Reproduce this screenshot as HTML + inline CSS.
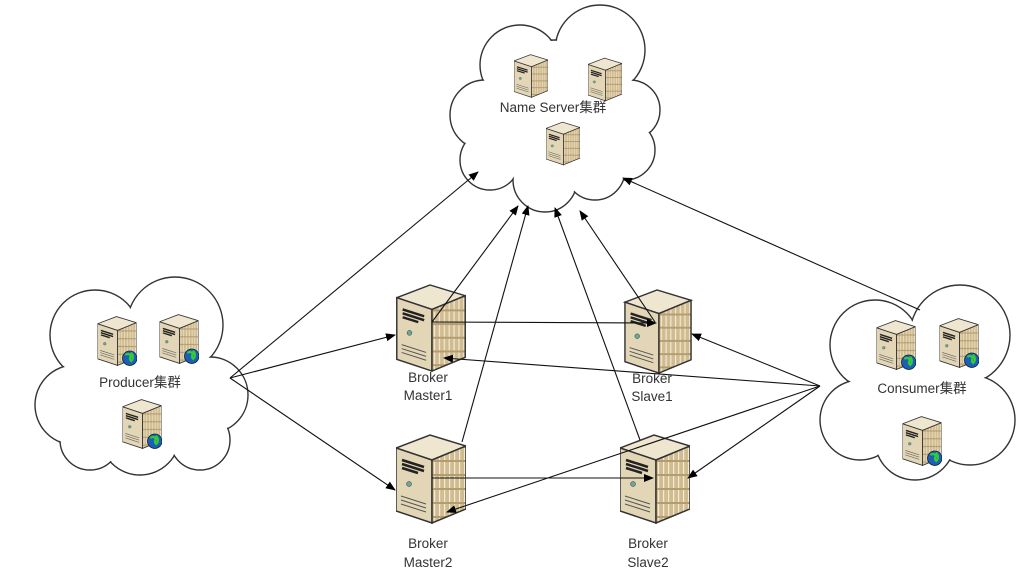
<!DOCTYPE html>
<html><head><meta charset="utf-8"><style>
html,body{margin:0;padding:0;background:#fff;width:1017px;height:576px;overflow:hidden}
text{font-family:"Liberation Sans","Noto Sans CJK SC",sans-serif;fill:#333;font-size:13.5px}
</style></head><body>
<svg width="1017" height="576" viewBox="0 0 1017 576" xmlns="http://www.w3.org/2000/svg">
<defs>
<marker id="a" markerWidth="10" markerHeight="8" refX="9" refY="4" orient="auto" markerUnits="userSpaceOnUse">
<path d="M0,0 L10,4 L0,8 z" fill="#000"/></marker>
<pattern id="st" width="5" height="14" patternUnits="userSpaceOnUse">
<rect width="5" height="14" fill="#d0bc90"/><rect x="3" width="1.2" height="14" fill="#f3ead6"/><rect y="12" width="5" height="2" fill="#b39c70"/></pattern>
<symbol id="srv" viewBox="0 0 70 90">
<polygon points="0,14 34,1 70,12 36,26" fill="#efe6d0" stroke="#333" stroke-width="1.5"/>
<polygon points="0,14 36,26 36,89 0,77" fill="#e3d6b6" stroke="#333" stroke-width="1.5"/>
<polygon points="36,26 70,12 70,75 36,89" fill="url(#st)" stroke="#333" stroke-width="1.5"/>
<path d="M6,26 L28,33 M6,30 L28,37 M6,34 L22,39" stroke="#222" stroke-width="2.5"/>
<circle cx="13" cy="50" r="2.5" fill="#6a9" stroke="#333" stroke-width=".5"/>
<path d="M5,62 L30,70 M5,66 L30,74 M5,70 L30,78" stroke="#555" stroke-width="1"/>
</symbol>
<symbol id="gsrv" viewBox="0 0 70 90">
<use href="#srv" width="70" height="90"/>
<circle cx="58" cy="76" r="13" fill="#1c5fb8" stroke="#123" stroke-width="1.5"/>
<path d="M50,70 q6,-4 10,2 q-4,6 2,10 M60,66 q6,6 2,14" stroke="#3c3" stroke-width="4" fill="none"/>
</symbol>
</defs>

<g id="clouds">
<g stroke="#333" stroke-width="1.4" fill="#fff">
<circle cx="520" cy="65" r="40"/><circle cx="600" cy="50" r="45"/><circle cx="485" cy="115" r="35"/><circle cx="490" cy="160" r="30"/>
<circle cx="630" cy="110" r="30"/><circle cx="625" cy="150" r="30"/><circle cx="545" cy="180" r="32"/><circle cx="555" cy="100" r="60"/><circle cx="595" cy="170" r="30"/><circle cx="522" cy="145" r="30"/>
<circle cx="95" cy="335" r="45"/><circle cx="175" cy="325" r="48"/><circle cx="75" cy="405" r="40"/><circle cx="210" cy="395" r="38"/><circle cx="140" cy="435" r="40"/><circle cx="140" cy="380" r="60"/><circle cx="90" cy="440" r="30"/><circle cx="200" cy="440" r="30"/>
<circle cx="875" cy="345" r="45"/><circle cx="960" cy="335" r="50"/><circle cx="860" cy="420" r="40"/><circle cx="970" cy="420" r="45"/><circle cx="915" cy="440" r="40"/><circle cx="920" cy="385" r="60"/>
</g>
<g fill="#fff">
<circle cx="520" cy="65" r="39"/><circle cx="600" cy="50" r="44"/><circle cx="485" cy="115" r="34"/><circle cx="490" cy="160" r="29"/>
<circle cx="630" cy="110" r="29"/><circle cx="625" cy="150" r="29"/><circle cx="545" cy="180" r="31"/><circle cx="555" cy="100" r="59"/><circle cx="595" cy="170" r="29"/><circle cx="522" cy="145" r="29"/>
<circle cx="95" cy="335" r="44"/><circle cx="175" cy="325" r="47"/><circle cx="75" cy="405" r="39"/><circle cx="210" cy="395" r="37"/><circle cx="140" cy="435" r="39"/><circle cx="140" cy="380" r="59"/><circle cx="90" cy="440" r="29"/><circle cx="200" cy="440" r="29"/>
<circle cx="875" cy="345" r="44"/><circle cx="960" cy="335" r="49"/><circle cx="860" cy="420" r="39"/><circle cx="970" cy="420" r="44"/><circle cx="915" cy="440" r="39"/><circle cx="920" cy="385" r="59"/>
</g>
</g>

<use href="#srv" x="514" y="54" width="34" height="44"/>
<use href="#srv" x="588" y="57" width="34" height="45"/>
<use href="#srv" x="546" y="121" width="34" height="45"/>
<use href="#gsrv" x="97" y="316" width="40" height="50"/>
<use href="#gsrv" x="159" y="314" width="40" height="50"/>
<use href="#gsrv" x="122" y="399" width="40" height="50"/>
<use href="#gsrv" x="876" y="320" width="40" height="50"/>
<use href="#gsrv" x="939" y="318" width="40" height="50"/>
<use href="#gsrv" x="902" y="416" width="40" height="50"/>

<use href="#srv" x="396" y="284" width="70" height="88"/>
<use href="#srv" x="623" y="289" width="70" height="85"/>
<use href="#srv" x="396" y="434" width="70" height="90"/>
<use href="#srv" x="620" y="434" width="70" height="90"/>

<g stroke="#111" stroke-width="1.1" fill="none" marker-end="url(#a)">
<line x1="230" y1="378" x2="478" y2="172"/>
<line x1="230" y1="378" x2="395" y2="335"/>
<line x1="230" y1="378" x2="395" y2="490"/>
<line x1="432" y1="322" x2="518" y2="206"/>
<line x1="462" y1="442" x2="528" y2="206"/>
<line x1="640" y1="440" x2="555" y2="208"/>
<line x1="655" y1="322" x2="580" y2="211"/>
<line x1="920" y1="310" x2="623" y2="178"/>
<line x1="432" y1="322" x2="656" y2="323"/>
<line x1="432" y1="478" x2="653" y2="478"/>
<line x1="820" y1="386" x2="444" y2="358"/>
<line x1="820" y1="386" x2="692" y2="334"/>
<line x1="820" y1="386" x2="447" y2="512"/>
<line x1="820" y1="386" x2="688" y2="478"/>
</g>

<text x="553" y="112" text-anchor="middle">Name Server集群</text>
<text x="140" y="387" text-anchor="middle">Producer集群</text>
<text x="922" y="393" text-anchor="middle">Consumer集群</text>
<g text-anchor="middle">
<text x="428" y="382">Broker</text><text x="428" y="400">Master1</text>
<text x="652" y="383">Broker</text><text x="652" y="401">Slave1</text>
<text x="428" y="548">Broker</text><text x="428" y="567">Master2</text>
<text x="648" y="548">Broker</text><text x="648" y="567">Slave2</text>
</g>
</svg>
</body></html>
